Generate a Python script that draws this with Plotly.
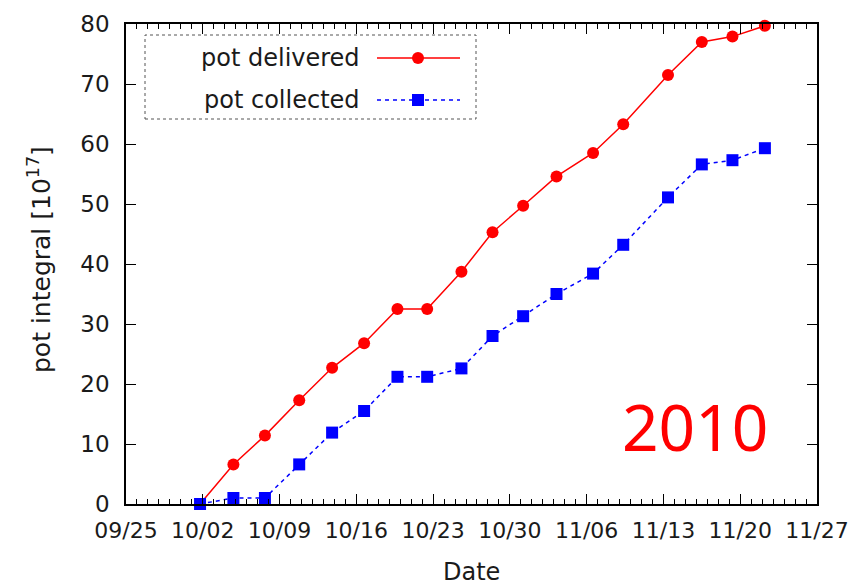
import plotly.graph_objects as go

# Measurement dates (2010) and cumulative POT integral in units of 1e17
dates = [
    "2010-10-01 18:00", "2010-10-04 19:00", "2010-10-07 16:00", "2010-10-10 19:00",
    "2010-10-13 19:00", "2010-10-16 17:00", "2010-10-19 18:00", "2010-10-22 11:00",
    "2010-10-25 14:00", "2010-10-28 10:00", "2010-10-31 05:00", "2010-11-03 06:00",
    "2010-11-06 14:00", "2010-11-09 08:00", "2010-11-13 10:00", "2010-11-16 12:00",
    "2010-11-19 07:00", "2010-11-22 06:00",
]
pot_delivered = [0.0, 6.6, 11.4, 17.3, 22.7, 26.8, 32.5, 32.5, 38.7, 45.3,
                 49.7, 54.6, 58.5, 63.3, 71.5, 77.0, 77.9, 79.7]
pot_collected = [0.0, 1.0, 1.0, 6.6, 11.9, 15.5, 21.2, 21.2, 22.6, 28.0,
                 31.3, 35.0, 38.4, 43.2, 51.1, 56.6, 57.3, 59.3]

x_range = ["2010-09-25", "2010-11-27"]
y_range = [0, 80]
legend_labels = ["pot delivered", "pot collected"]

RED = "#ff0000"
BLUE = "#0000ff"
FONT = "DejaVu Sans"
INK = "#1a1a1a"

fig = go.Figure()
fig.add_trace(go.Scatter(
    x=dates, y=pot_delivered, mode="lines+markers", name=legend_labels[0],
    line=dict(color=RED, width=1.5),
    marker=dict(symbol="circle", size=12, color=RED),
    cliponaxis=False,
))
fig.add_trace(go.Scatter(
    x=dates, y=pot_collected, mode="lines+markers", name=legend_labels[1],
    line=dict(color=BLUE, width=1.5, dash="4px,4px"),
    marker=dict(symbol="square", size=12, color=BLUE),
    cliponaxis=False,
))

W, H = 851, 585
L, R, T, B = 126, 34, 24, 81
pw, ph = W - L - R, H - T - B


def px(xp):
    return (xp - L) / pw


def py(yp):
    return 1 - (yp - T) / ph


# Key box in the upper-left corner: text on the left, sample on the right
shapes = [
    dict(type="rect", xref="paper", yref="paper",
         x0=px(145), x1=px(476), y0=py(119), y1=py(35),
         line=dict(color="#555555", width=1, dash="dot"), fillcolor="white"),
    dict(type="line", xref="paper", yref="paper",
         x0=px(377), x1=px(460), y0=py(58), y1=py(58),
         line=dict(color=RED, width=1.5)),
    dict(type="circle", xref="paper", yref="paper",
         x0=px(412), x1=px(424), y0=py(64), y1=py(52),
         line=dict(color=RED, width=0), fillcolor=RED),
    dict(type="line", xref="paper", yref="paper",
         x0=px(377), x1=px(460), y0=py(100), y1=py(100),
         line=dict(color=BLUE, width=1.5, dash="4px,4px")),
    dict(type="rect", xref="paper", yref="paper",
         x0=px(412), x1=px(424), y0=py(106), y1=py(94),
         line=dict(color=BLUE, width=0), fillcolor=BLUE),
]

annotations = [
    dict(text=legend_labels[0], xref="paper", yref="paper", x=px(362), y=py(58),
         xanchor="right", yanchor="middle", showarrow=False,
         font=dict(family=FONT, size=24, color=INK)),
    dict(text=legend_labels[1], xref="paper", yref="paper", x=px(362), y=py(100),
         xanchor="right", yanchor="middle", showarrow=False,
         font=dict(family=FONT, size=24, color=INK)),
    dict(text="pot integral [10<sup>17</sup>]", xref="paper", yref="paper",
         x=px(39), y=py(260), xanchor="center", yanchor="middle", textangle=-90,
         showarrow=False, font=dict(family=FONT, size=25, color=INK)),
    dict(text="Date", xref="paper", yref="paper", x=0.5, y=py(572),
         xanchor="center", yanchor="middle", showarrow=False,
         font=dict(family=FONT, size=24, color=INK)),
    dict(text="2010", xref="paper", yref="paper", x=px(695), y=py(426),
         xanchor="center", yanchor="middle", showarrow=False,
         font=dict(family="Noto Sans", size=64, color=RED)),
]

fig.update_layout(
    width=W, height=H,
    margin=dict(l=L, r=R, t=T, b=B, pad=0, autoexpand=False),
    paper_bgcolor="white", plot_bgcolor="white",
    showlegend=False,
    shapes=shapes,
    annotations=annotations,
    font=dict(family=FONT, size=22, color=INK),
)

fig.update_xaxes(
    type="date", range=x_range, automargin=False,
    tick0="2010-09-25", dtick=7 * 86400000, tickformat="%m/%d",
    ticks="inside", ticklen=10, tickwidth=1.2, tickcolor="black",
    showline=True, linecolor="black", linewidth=1.5, mirror="allticks",
    showgrid=False, zeroline=False,
    minor=dict(dtick=86400000, tick0="2010-09-25", ticks="inside",
               ticklen=5, tickwidth=1, tickcolor="black", showgrid=False),
    tickfont=dict(family=FONT, size=22, color=INK),
    ticklabelstandoff=6,
)
fig.update_yaxes(
    range=y_range, dtick=10, tick0=0, automargin=False,
    ticks="inside", ticklen=10, tickwidth=1.2, tickcolor="black",
    showline=True, linecolor="black", linewidth=1.5, mirror="allticks",
    showgrid=False, zeroline=False,
    tickfont=dict(family=FONT, size=23, color=INK),
    ticklabelstandoff=10,
)

fig.write_html("out.html")
